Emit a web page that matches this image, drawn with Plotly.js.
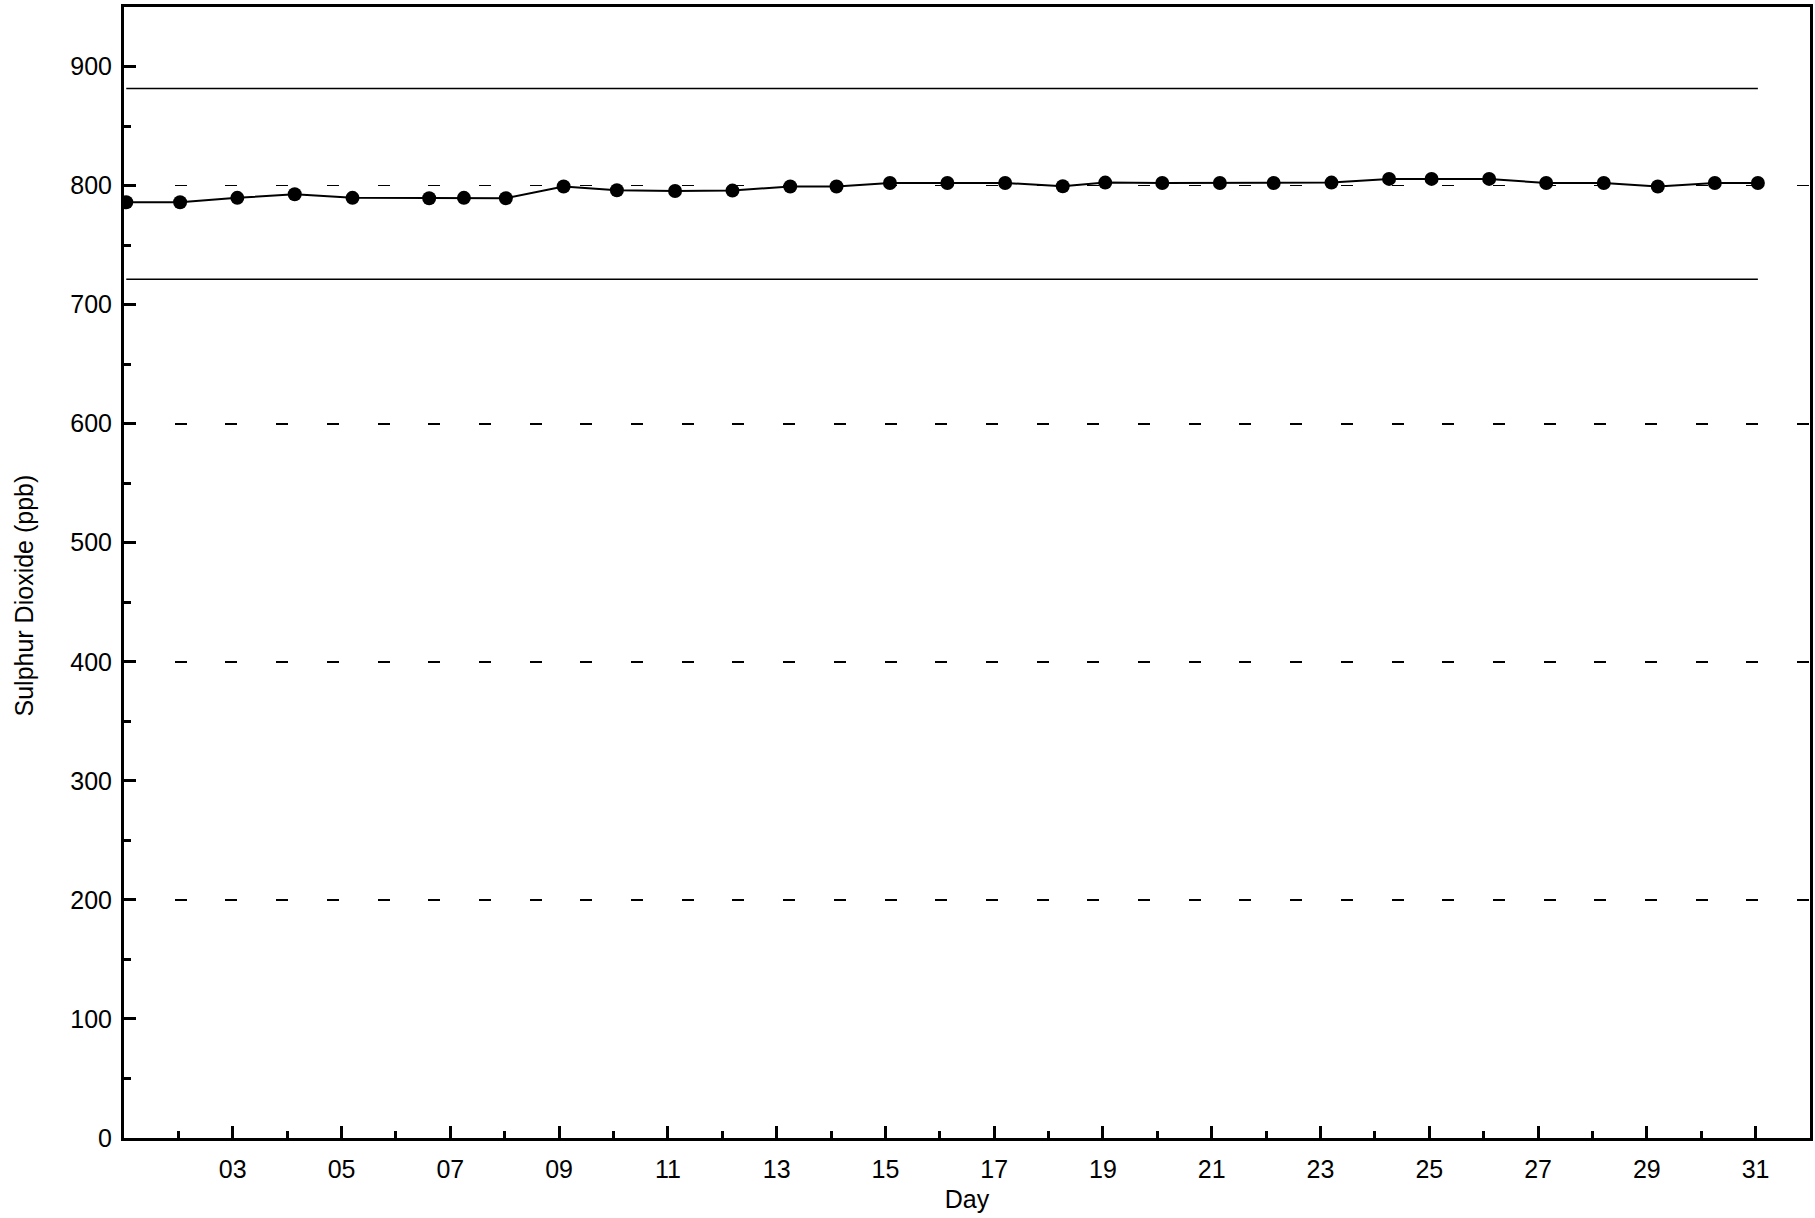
<!DOCTYPE html>
<html>
<head>
<meta charset="utf-8">
<script src="https://cdn.plot.ly/plotly-3.0.1.min.js"></script>
<style>
html, body { margin: 0; padding: 0; background: #fff; }
#chart { width: 1815px; height: 1218px; }
</style>
</head>
<body>
<div id="chart"></div>
<script>
// ---- data ----
const month = "2023-01";
const sampleTimes = [
  "2023-01-01 01:00", "2023-01-02 00:45", "2023-01-03 02:00", "2023-01-04 03:20",
  "2023-01-05 04:50", "2023-01-06 14:40", "2023-01-07 06:00", "2023-01-08 00:30",
  "2023-01-09 02:00", "2023-01-10 01:30", "2023-01-11 03:10", "2023-01-12 04:30",
  "2023-01-13 06:00", "2023-01-14 02:25", "2023-01-15 02:00", "2023-01-16 03:20",
  "2023-01-17 04:50", "2023-01-18 06:15", "2023-01-19 01:00", "2023-01-20 02:10",
  "2023-01-21 03:35", "2023-01-22 03:20", "2023-01-23 04:50", "2023-01-24 06:15",
  "2023-01-25 01:00", "2023-01-26 02:25", "2023-01-27 03:35", "2023-01-28 05:00",
  "2023-01-29 04:50", "2023-01-30 06:00", "2023-01-31 01:00"
];
const so2Values = [
  786.0, 786.0, 789.7, 792.7, 789.7, 789.4, 789.7, 789.4,
  799.2, 796.1, 795.5, 795.8, 799.2, 799.2, 802.2, 802.2,
  802.2, 799.4, 802.5, 802.2, 802.2, 802.2, 802.5, 805.6,
  805.6, 805.6, 802.2, 802.2, 799.2, 802.2, 802.2
];
const upperLimit = 881.6;
const lowerLimit = 721.4;
const dayTickLabels = ["03","05","07","09","11","13","15","17","19","21","23","25","27","29","31"];
const yAxisTitle = "Sulphur Dioxide (ppb)";
const xAxisTitle = "Day";

// ---- build chart ----
const FONT = "Liberation Sans, Arial, Helvetica, sans-serif";
const first = sampleTimes[0], last = sampleTimes[sampleTimes.length - 1];
const DAY = 86400000;

const traces = [
  // invisible trace that activates the dashed-grid overlay axis
  { x: [first], y: [0], yaxis: "y2", mode: "markers",
    marker: { opacity: 0 }, hoverinfo: "skip", showlegend: false },
  { x: [first, last], y: [upperLimit, upperLimit], mode: "lines",
    line: { color: "#000", width: 1.5 }, hoverinfo: "skip", showlegend: false },
  { x: [first, last], y: [lowerLimit, lowerLimit], mode: "lines",
    line: { color: "#000", width: 1.5 }, hoverinfo: "skip", showlegend: false },
  { x: sampleTimes, y: so2Values, mode: "lines+markers",
    line: { color: "#000", width: 2 },
    marker: { color: "#000", size: 14 }, showlegend: false }
];

const layout = {
  width: 1815, height: 1218,
  paper_bgcolor: "#fff", plot_bgcolor: "#fff",
  margin: { l: 124, r: 5, t: 7, b: 80 },
  font: { family: FONT, size: 25, color: "#000" },
  showlegend: false,
  xaxis: {
    type: "date",
    range: [month + "-01", "2023-02-01"],
    tickmode: "array",
    tickvals: dayTickLabels.map(d => month + "-" + d),
    ticktext: dayTickLabels,
    ticks: "inside", ticklen: 12, tickwidth: 3, tickcolor: "#000",
    ticklabelstandoff: 7,
    minor: { tickmode: "linear", tick0: month + "-02", dtick: 2 * DAY,
             ticks: "inside", ticklen: 7, tickwidth: 3, tickcolor: "#000" },
    showline: true, linewidth: 3, linecolor: "#000", mirror: true,
    showgrid: false, zeroline: false,
    tickfont: { family: FONT, size: 25, color: "#000" },
    title: { text: xAxisTitle, font: { family: FONT, size: 25, color: "#000" }, standoff: 9 },
    automargin: false
  },
  yaxis: {
    range: [0, 950],
    tickmode: "linear", tick0: 0, dtick: 100,
    ticks: "inside", ticklen: 12, tickwidth: 3, tickcolor: "#000",
    ticklabelstandoff: 4,
    minor: { tickmode: "linear", tick0: 0, dtick: 50,
             ticks: "inside", ticklen: 7, tickwidth: 3, tickcolor: "#000" },
    showline: true, linewidth: 3, linecolor: "#000", mirror: true,
    showgrid: false, zeroline: false,
    tickfont: { family: FONT, size: 25, color: "#000" },
    automargin: false
  },
  yaxis2: {
    overlaying: "y", range: [0, 950],
    tickmode: "linear", tick0: 0, dtick: 200,
    showticklabels: false, ticks: "", showline: false, zeroline: false,
    showgrid: true, gridcolor: "#000", gridwidth: 1.7, griddash: "12px,38.7px"
  },
  annotations: [{
    text: yAxisTitle, textangle: -90,
    xref: "paper", yref: "paper", x: 0, y: 0.5,
    xanchor: "center", yanchor: "middle",
    xshift: -101, yshift: -23, showarrow: false,
    font: { family: FONT, size: 25, color: "#000" }
  }]
};

Plotly.newPlot("chart", traces, layout, { staticPlot: true, displayModeBar: false });
</script>
</body>
</html>
